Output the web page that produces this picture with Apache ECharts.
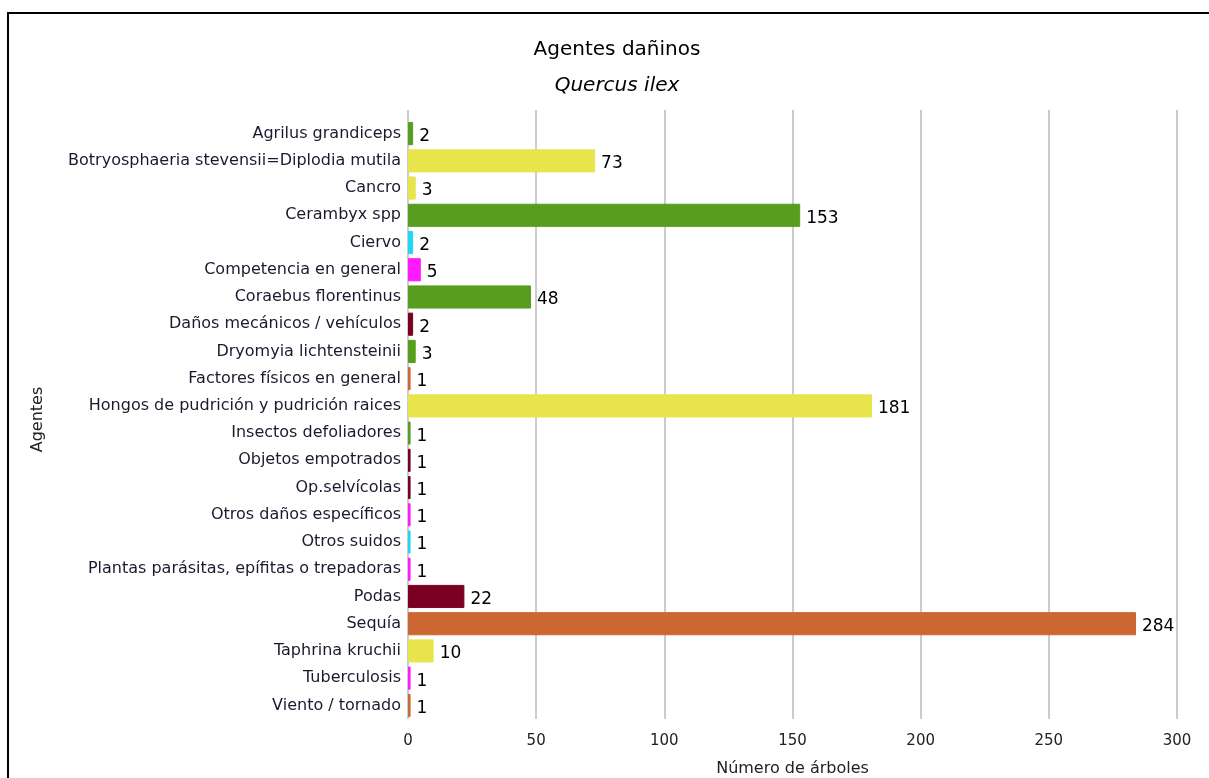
<!DOCTYPE html>
<html>
<head>
<meta charset="utf-8">
<script src="https://cdn.jsdelivr.net/npm/echarts@6/dist/echarts.min.js"></script>
<style>
  html, body { margin: 0; padding: 0; background: #fff; }
  #chart { width: 1209px; height: 778px; }
  .frame {
    position: absolute; left: 7px; top: 12px; width: 1240px; height: 800px;
    border-top: 2px solid #000; border-left: 2px solid #000; pointer-events: none;
  }
</style>
</head>
<body>
<div id="chart"></div>
<div class="frame"></div>
<script>
const agentes = [
  'Agrilus grandiceps', 'Botryosphaeria stevensii=Diplodia mutila', 'Cancro', 'Cerambyx spp',
  'Ciervo', 'Competencia en general', 'Coraebus florentinus', 'Daños mecánicos / vehículos',
  'Dryomyia lichtensteinii', 'Factores físicos en general', 'Hongos de pudrición y pudrición raices',
  'Insectos defoliadores', 'Objetos empotrados', 'Op.selvícolas', 'Otros daños específicos',
  'Otros suidos', 'Plantas parásitas, epífitas o trepadoras', 'Podas', 'Sequía',
  'Taphrina kruchii', 'Tuberculosis', 'Viento / tornado'
]
const arboles = [2, 73, 3, 153, 2, 5, 48, 2, 3, 1, 181, 1, 1, 1, 1, 1, 1, 22, 284, 10, 1, 1]
const grupos = [
  'verde', 'amarillo', 'amarillo', 'verde', 'cian', 'magenta', 'verde', 'granate',
  'verde', 'naranja', 'amarillo', 'verde', 'granate', 'granate', 'magenta',
  'cian', 'magenta', 'granate', 'naranja', 'amarillo', 'magenta', 'naranja'
]
const ejeX = [0, 50, 100, 150, 200, 250, 300]

const colores = {
  verde: '#589e1e', amarillo: '#e8e54c', cian: '#1fd7f5',
  magenta: '#ff1aff', granate: '#7a0022', naranja: '#cc6633'
}
const font = '"DejaVu Sans", Verdana, sans-serif'

const chart = echarts.init(document.getElementById('chart'))
chart.setOption({
  animation: false,
  title: [
    { text: 'Agentes dañinos', left: 612, top: 35, textAlign: 'center',
      textStyle: { fontFamily: font, fontSize: 20, fontWeight: 'normal', color: '#000' } },
    { text: 'Quercus ilex', left: 612, top: 71, textAlign: 'center',
      textStyle: { fontFamily: font, fontSize: 20, fontWeight: 'normal', fontStyle: 'italic', color: '#000' } }
  ],
  grid: [
    { left: 408, right: 32, top: 120, bottom: 59, outerBoundsMode: 'none' },
    { left: 408, right: 32, top: 110, bottom: 59, outerBoundsMode: 'none' }
  ],
  xAxis: [
    {
      type: 'value', min: ejeX[0], max: ejeX[ejeX.length - 1], interval: 50,
      name: 'Número de árboles', nameLocation: 'middle', nameGap: 42,
      nameTextStyle: { fontFamily: font, fontSize: 16, color: '#222' },
      axisLine: { show: false }, axisTick: { show: false },
      axisLabel: { fontFamily: font, fontSize: 15, color: '#222', margin: 15 },
      splitLine: { show: false }
    },
    {
      // gridlines that reach a little above the first bar, as in the original
      gridIndex: 1, type: 'value', min: ejeX[0], max: ejeX[ejeX.length - 1], interval: 50,
      axisLine: { show: false }, axisTick: { show: false }, axisLabel: { show: false },
      splitLine: { lineStyle: { color: '#cccccc', width: 2 } }
    }
  ],
  yAxis: [
    {
      type: 'category', data: agentes, inverse: true,
      name: 'Agentes', nameLocation: 'middle', nameGap: 362, nameRotate: 90,
      nameTextStyle: { fontFamily: font, fontSize: 16, color: '#222' },
      axisLine: { show: false }, axisTick: { show: false },
      axisLabel: { fontFamily: font, fontSize: 16, color: '#1a1a2e', margin: 7 }
    },
    { gridIndex: 1, type: 'value', show: false }
  ],
  series: [{
    type: 'bar', barWidth: '85%', z: 3,
    data: arboles.map((v, i) => ({
      value: v,
      itemStyle: { color: colores[grupos[i]], borderColor: colores[grupos[i]], borderWidth: 1 }
    })),
    label: {
      show: true, position: 'right', distance: 6, offset: [0, 3],
      fontFamily: font, fontSize: 17, color: '#000'
    }
  }]
})
</script>
</body>
</html>
